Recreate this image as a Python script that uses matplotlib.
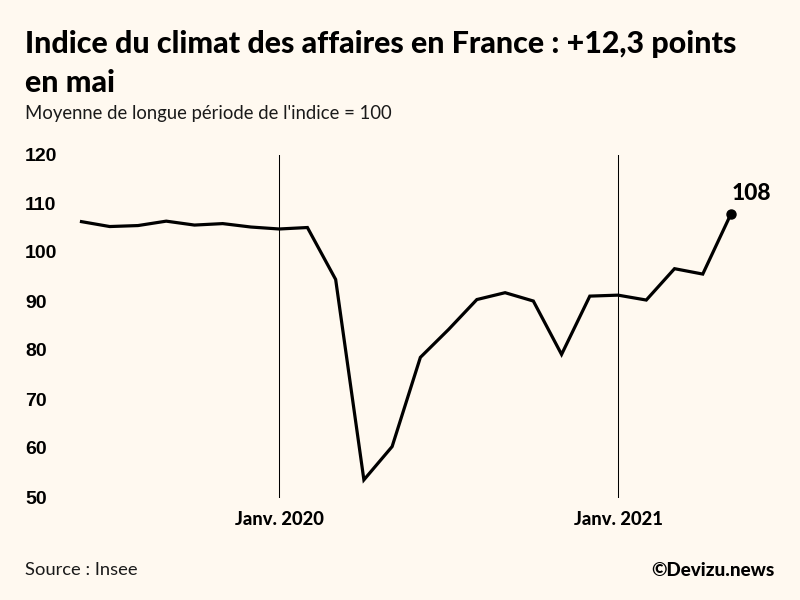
import matplotlib
matplotlib.use("Agg")
import matplotlib.pyplot as plt
from matplotlib.transforms import ScaledTranslation

months = ["2019-06","2019-07","2019-08","2019-09","2019-10","2019-11","2019-12",
          "2020-01","2020-02","2020-03","2020-04","2020-05","2020-06","2020-07",
          "2020-08","2020-09","2020-10","2020-11","2020-12","2021-01","2021-02",
          "2021-03","2021-04","2021-05"]
values = [106.4,105.4,105.6,106.5,105.7,106.0,105.3,104.9,105.2,94.6,53.7,60.5,
          78.7,84.4,90.5,91.9,90.2,79.3,91.2,91.4,90.4,96.8,95.7,108.0]
y_ticks = [50,60,70,80,90,100,110,120]
x_marks = ["2020-01","2021-01"]
x_labels = ["Janv. 2020","Janv. 2021"]
BG = "#FFF9F0"
W, H = 800, 600
L, R, T, B = 81.5, 731, 155, 498

fig = plt.figure(figsize=(8,6), dpi=100, facecolor=BG)
ax = fig.add_axes([L/W, 1-B/H, (R-L)/W, (B-T)/H], facecolor=BG)
xs = list(range(len(months)))
ax.set_xlim(0, len(months)-1)
ax.set_ylim(50, 120)
for s in ax.spines.values():
    s.set_visible(False)
pos = [months.index(m) for m in x_marks]
for p in pos:
    ax.axvline(p, color="black", lw=0.75, zorder=1)
ax.plot(xs, values, color="black", lw=2.3, clip_on=False, zorder=3, solid_joinstyle="miter")
ax.plot(xs[-1], values[-1], "o", color="black", ms=6.5, clip_on=False, zorder=4)
ax.annotate(f"{values[-1]:.0f}", (xs[-1], values[-1]), xytext=(0.7, 7), textcoords="offset points",
            fontsize=16.4, fontweight="black", family="Lato", ha="left", va="bottom", color="black")
ax.set_yticks(y_ticks)
ax.set_yticklabels([str(v) for v in y_ticks], family="Liberation Sans", fontweight="bold",
                   fontsize=14, ha="left")
ax.tick_params(axis="y", length=0, pad=40.5)
shift = ScaledTranslation(0, 1/100, fig.dpi_scale_trans)
for lab in ax.get_yticklabels():
    lab.set_transform(lab.get_transform() + shift)
ax.set_xticks(pos)
ax.set_xticklabels(x_labels, family="Lato", fontweight="black", fontsize=13.2)
ax.tick_params(axis="x", length=0, pad=9.5)

fig.text(25/W, 1-44.5/H, "Indice du climat des affaires en France : +12,3 points", family="Lato",
         fontweight="black", fontsize=21.85, va="center", ha="left", color="black")
fig.text(25/W, 1-83.5/H, "en mai", family="Lato", fontweight="black", fontsize=21.85,
         va="center", ha="left", color="black")
fig.text(25/W, 1-113.5/H, "Moyenne de longue période de l'indice = 100", family="Lato",
         fontsize=13.35, va="center", ha="left", color="#1a1a1a", fontweight="normal")
fig.text(25/W, 1-570/H, "Source : Insee", family="Lato", fontsize=13.2, va="center", ha="left",
         color="#1a1a1a", fontweight="normal")
fig.text(775/W, 1-570/H, "©Devizu.news", family="Lato", fontweight="black", fontsize=13.6,
         va="center", ha="right", color="black")
fig.savefig("out.png", dpi=100, facecolor=BG)
